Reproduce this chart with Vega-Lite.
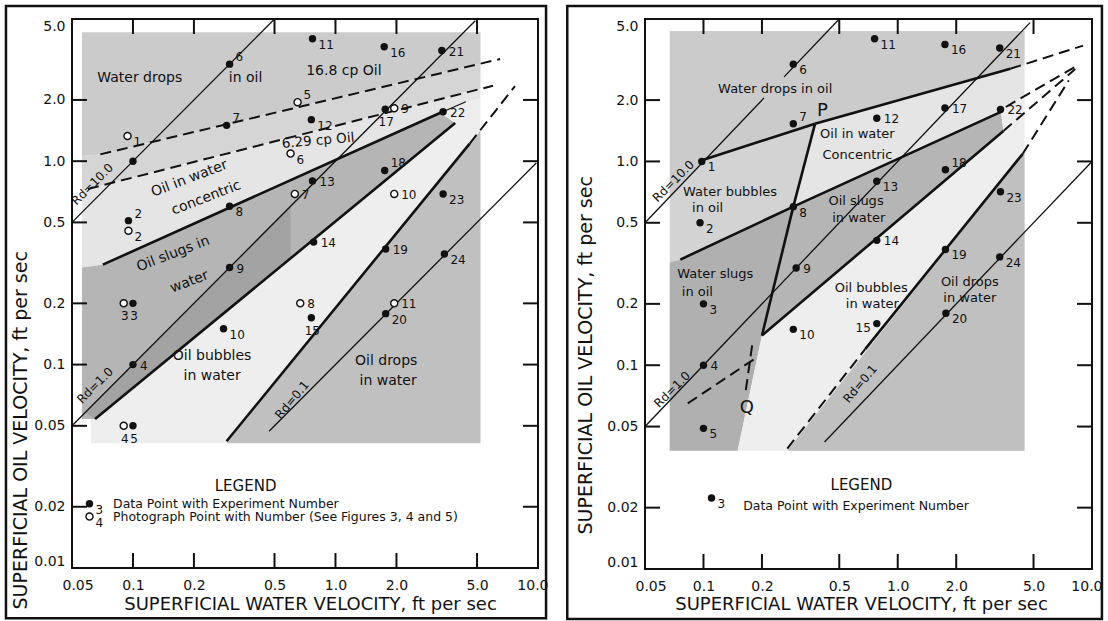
{
"$schema":"https://vega.github.io/schema/vega-lite/v6.json",
"background":"white",
"padding":{"left":3,"top":3,"right":2,"bottom":2},
"spacing":16,
"config":{"view":{"stroke":"#111","strokeWidth":2},"text":{"font":"DejaVu Sans","color":"#111"},"axis":{"minExtent":0}},
"datasets":{
"frames":[{"panel":"L","x":0.0236,"x2":10.96,"y":0.00566,"y2":5.79},{"panel":"R","x":0.0199,"x2":11.25,"y":0.00569,"y2":5.79}],
"polys":[
{"panel":"L","r":"wd","o":1,"x":0.056,"y":4.3},{"panel":"L","r":"wd","o":2,"x":5.2,"y":4.3},{"panel":"L","r":"wd","o":3,"x":5.2,"y":3.02},{"panel":"L","r":"wd","o":4,"x":0.069,"y":1.08},{"panel":"L","r":"wd","o":5,"x":0.056,"y":1.06},
{"panel":"L","r":"mx","o":1,"x":0.056,"y":1.06},{"panel":"L","r":"mx","o":2,"x":0.069,"y":1.08},{"panel":"L","r":"mx","o":3,"x":5.2,"y":3.02},{"panel":"L","r":"mx","o":4,"x":5.2,"y":2.27},{"panel":"L","r":"mx","o":5,"x":0.06,"y":0.73},{"panel":"L","r":"mx","o":6,"x":0.056,"y":0.72},
{"panel":"L","r":"co","o":1,"x":0.056,"y":0.72},{"panel":"L","r":"co","o":2,"x":0.06,"y":0.73},{"panel":"L","r":"co","o":3,"x":5.2,"y":2.27},{"panel":"L","r":"co","o":4,"x":5.2,"y":2.02},{"panel":"L","r":"co","o":5,"x":4.4,"y":1.96},{"panel":"L","r":"co","o":6,"x":3.3,"y":1.73},{"panel":"L","r":"co","o":7,"x":0.071,"y":0.31},{"panel":"L","r":"co","o":8,"x":0.056,"y":0.3},
{"panel":"L","r":"sl","o":1,"x":0.056,"y":0.3},{"panel":"L","r":"sl","o":2,"x":0.071,"y":0.31},{"panel":"L","r":"sl","o":3,"x":3.3,"y":1.73},{"panel":"L","r":"sl","o":4,"x":3.9,"y":1.54},{"panel":"L","r":"sl","o":5,"x":0.065,"y":0.054},{"panel":"L","r":"sl","o":6,"x":0.056,"y":0.054},
{"panel":"L","r":"dg","o":1,"x":0.058,"y":0.058},{"panel":"L","r":"dg","o":2,"x":0.6,"y":0.6},{"panel":"L","r":"dg","o":3,"x":0.6,"y":0.333},{"panel":"L","r":"dg","o":4,"x":0.065,"y":0.054},
{"panel":"L","r":"bu","o":1,"x":0.062,"y":0.041},{"panel":"L","r":"bu","o":2,"x":0.29,"y":0.041},{"panel":"L","r":"bu","o":3,"x":4.6,"y":1.22},{"panel":"L","r":"bu","o":4,"x":5.2,"y":1.42},{"panel":"L","r":"bu","o":5,"x":5.2,"y":2.02},{"panel":"L","r":"bu","o":6,"x":4.4,"y":1.96},{"panel":"L","r":"bu","o":7,"x":3.3,"y":1.73},{"panel":"L","r":"bu","o":8,"x":3.9,"y":1.54},{"panel":"L","r":"bu","o":9,"x":0.065,"y":0.054},{"panel":"L","r":"bu","o":10,"x":0.062,"y":0.054},
{"panel":"L","r":"dr","o":1,"x":0.29,"y":0.041},{"panel":"L","r":"dr","o":2,"x":5.2,"y":0.041},{"panel":"L","r":"dr","o":3,"x":5.2,"y":1.42},{"panel":"L","r":"dr","o":4,"x":4.6,"y":1.22},
{"panel":"R","r":"wd","o":1,"x":0.067,"y":4.36},{"panel":"R","r":"wd","o":2,"x":4.5,"y":4.36},{"panel":"R","r":"wd","o":3,"x":4.5,"y":2.97},{"panel":"R","r":"wd","o":4,"x":3.8,"y":2.85},{"panel":"R","r":"wd","o":5,"x":0.375,"y":1.53},{"panel":"R","r":"wd","o":6,"x":0.1,"y":1.02},{"panel":"R","r":"wd","o":7,"x":0.067,"y":0.67},
{"panel":"R","r":"wb","o":1,"x":0.067,"y":0.67},{"panel":"R","r":"wb","o":2,"x":0.1,"y":1.02},{"panel":"R","r":"wb","o":3,"x":0.375,"y":1.53},{"panel":"R","r":"wb","o":4,"x":0.29,"y":0.6},{"panel":"R","r":"wb","o":5,"x":0.076,"y":0.33},{"panel":"R","r":"wb","o":6,"x":0.067,"y":0.32},
{"panel":"R","r":"co","o":1,"x":0.375,"y":1.53},{"panel":"R","r":"co","o":2,"x":3.8,"y":2.85},{"panel":"R","r":"co","o":3,"x":4.5,"y":2.97},{"panel":"R","r":"co","o":4,"x":4.5,"y":2.1},{"panel":"R","r":"co","o":5,"x":3.4,"y":1.75},{"panel":"R","r":"co","o":6,"x":0.29,"y":0.6},
{"panel":"R","r":"ws","o":1,"x":0.067,"y":0.32},{"panel":"R","r":"ws","o":2,"x":0.076,"y":0.33},{"panel":"R","r":"ws","o":3,"x":0.29,"y":0.6},{"panel":"R","r":"ws","o":4,"x":0.2,"y":0.14},{"panel":"R","r":"ws","o":5,"x":0.15,"y":0.038},{"panel":"R","r":"ws","o":6,"x":0.067,"y":0.038},
{"panel":"R","r":"sl","o":1,"x":0.29,"y":0.6},{"panel":"R","r":"sl","o":2,"x":3.4,"y":1.75},{"panel":"R","r":"sl","o":3,"x":3.5,"y":1.41},{"panel":"R","r":"sl","o":4,"x":0.2,"y":0.14},
{"panel":"R","r":"bu","o":1,"x":0.2,"y":0.14},{"panel":"R","r":"bu","o":2,"x":3.5,"y":1.41},{"panel":"R","r":"bu","o":3,"x":3.4,"y":1.75},{"panel":"R","r":"bu","o":4,"x":4.5,"y":2.1},{"panel":"R","r":"bu","o":5,"x":4.5,"y":1.12},{"panel":"R","r":"bu","o":6,"x":4.4,"y":1.09},{"panel":"R","r":"bu","o":7,"x":0.27,"y":0.038},{"panel":"R","r":"bu","o":8,"x":0.15,"y":0.038},
{"panel":"R","r":"dr","o":1,"x":0.27,"y":0.038},{"panel":"R","r":"dr","o":2,"x":4.5,"y":0.038},{"panel":"R","r":"dr","o":3,"x":4.5,"y":1.12},{"panel":"R","r":"dr","o":4,"x":4.4,"y":1.09}
],
"lines":[
{"panel":"L","s":"thin","x":0.05,"y":0.5,"x2":0.5,"y2":5.0},
{"panel":"L","s":"thin","x":0.05,"y":0.05,"x2":4.9,"y2":4.9},
{"panel":"L","s":"thin","x":0.47,"y":0.047,"x2":9.8,"y2":0.98},
{"panel":"L","s":"thin","x":3.4,"y":1.75,"x2":4.4,"y2":1.96},
{"panel":"L","s":"dash","x":0.069,"y":1.08,"x2":6.5,"y2":3.18},
{"panel":"L","s":"dash","x":0.06,"y":0.73,"x2":6.0,"y2":2.35},
{"panel":"L","s":"dash","x":4.6,"y":1.22,"x2":7.7,"y2":2.34},
{"panel":"L","s":"thick","x":0.071,"y":0.31,"x2":3.3,"y2":1.73},
{"panel":"L","s":"thick","x":0.065,"y":0.054,"x2":3.9,"y2":1.54},
{"panel":"L","s":"thick","x":0.29,"y":0.042,"x2":4.6,"y2":1.22},
{"panel":"L","s":"tk","x":0.1,"y":0.01,"x2":0.1,"y2":0.01185},{"panel":"L","s":"tk","x":0.2,"y":0.01,"x2":0.2,"y2":0.01185},{"panel":"L","s":"tk","x":0.5,"y":0.01,"x2":0.5,"y2":0.01185},{"panel":"L","s":"tk","x":1,"y":0.01,"x2":1,"y2":0.01185},{"panel":"L","s":"tk","x":2,"y":0.01,"x2":2,"y2":0.01185},{"panel":"L","s":"tk","x":5,"y":0.01,"x2":5,"y2":0.01185},
{"panel":"L","s":"tk","x":0.1,"y":5,"x2":0.1,"y2":4.219},{"panel":"L","s":"tk","x":0.2,"y":5,"x2":0.2,"y2":4.219},{"panel":"L","s":"tk","x":0.5,"y":5,"x2":0.5,"y2":4.219},{"panel":"L","s":"tk","x":1,"y":5,"x2":1,"y2":4.219},{"panel":"L","s":"tk","x":2,"y":5,"x2":2,"y2":4.219},{"panel":"L","s":"tk","x":5,"y":5,"x2":5,"y2":4.219},
{"panel":"L","s":"tk","x":0.05,"y":0.02,"x2":0.0593,"y2":0.02},{"panel":"L","s":"tk","x":0.05,"y":0.05,"x2":0.0593,"y2":0.05},{"panel":"L","s":"tk","x":0.05,"y":0.1,"x2":0.0593,"y2":0.1},{"panel":"L","s":"tk","x":0.05,"y":0.2,"x2":0.0593,"y2":0.2},{"panel":"L","s":"tk","x":0.05,"y":0.5,"x2":0.0593,"y2":0.5},{"panel":"L","s":"tk","x":0.05,"y":1,"x2":0.0593,"y2":1},{"panel":"L","s":"tk","x":0.05,"y":2,"x2":0.0593,"y2":2},
{"panel":"L","s":"tk","x":10,"y":0.02,"x2":8.43,"y2":0.02},{"panel":"L","s":"tk","x":10,"y":0.05,"x2":8.43,"y2":0.05},{"panel":"L","s":"tk","x":10,"y":0.1,"x2":8.43,"y2":0.1},{"panel":"L","s":"tk","x":10,"y":0.2,"x2":8.43,"y2":0.2},{"panel":"L","s":"tk","x":10,"y":0.5,"x2":8.43,"y2":0.5},{"panel":"L","s":"tk","x":10,"y":1,"x2":8.43,"y2":1},{"panel":"L","s":"tk","x":10,"y":2,"x2":8.43,"y2":2},
{"panel":"R","s":"thin","x":0.05,"y":0.5,"x2":0.205,"y2":2.05},
{"panel":"R","s":"thin","x":0.26,"y":2.6,"x2":0.5,"y2":5.0},
{"panel":"R","s":"thin","x":0.05,"y":0.05,"x2":4.8,"y2":4.8},
{"panel":"R","s":"thin","x":0.42,"y":0.042,"x2":10,"y2":1.0},
{"panel":"R","s":"thick","x":0.1,"y":1.02,"x2":0.375,"y2":1.53},
{"panel":"R","s":"thick","x":0.375,"y":1.53,"x2":3.8,"y2":2.85},
{"panel":"R","s":"thick","x":0.375,"y":1.53,"x2":0.29,"y2":0.6},
{"panel":"R","s":"thick","x":0.29,"y":0.6,"x2":0.2,"y2":0.14},
{"panel":"R","s":"thick","x":0.076,"y":0.33,"x2":0.29,"y2":0.6},
{"panel":"R","s":"thick","x":0.29,"y":0.6,"x2":3.4,"y2":1.75},
{"panel":"R","s":"thick","x":0.2,"y":0.14,"x2":3.5,"y2":1.41},
{"panel":"R","s":"thick","x":0.68,"y":0.12,"x2":4.4,"y2":1.09},
{"panel":"R","s":"dash","x":3.8,"y":2.85,"x2":9.0,"y2":3.7},
{"panel":"R","s":"dash","x":3.6,"y":1.85,"x2":8.6,"y2":2.99},
{"panel":"R","s":"dash","x":3.5,"y":1.41,"x2":8.2,"y2":2.84},
{"panel":"R","s":"dash","x":4.4,"y":1.09,"x2":7.6,"y2":2.5},
{"panel":"R","s":"dash","x":0.27,"y":0.039,"x2":0.68,"y2":0.12},
{"panel":"R","s":"dash","x":0.083,"y":0.065,"x2":0.185,"y2":0.108},
{"panel":"R","s":"dash","x":0.178,"y":0.125,"x2":0.165,"y2":0.075},
{"panel":"R","s":"tk","x":0.1,"y":0.01,"x2":0.1,"y2":0.01185},{"panel":"R","s":"tk","x":0.2,"y":0.01,"x2":0.2,"y2":0.01185},{"panel":"R","s":"tk","x":0.5,"y":0.01,"x2":0.5,"y2":0.01185},{"panel":"R","s":"tk","x":1,"y":0.01,"x2":1,"y2":0.01185},{"panel":"R","s":"tk","x":2,"y":0.01,"x2":2,"y2":0.01185},{"panel":"R","s":"tk","x":5,"y":0.01,"x2":5,"y2":0.01185},
{"panel":"R","s":"tk","x":0.1,"y":5,"x2":0.1,"y2":4.219},{"panel":"R","s":"tk","x":0.2,"y":5,"x2":0.2,"y2":4.219},{"panel":"R","s":"tk","x":0.5,"y":5,"x2":0.5,"y2":4.219},{"panel":"R","s":"tk","x":1,"y":5,"x2":1,"y2":4.219},{"panel":"R","s":"tk","x":2,"y":5,"x2":2,"y2":4.219},{"panel":"R","s":"tk","x":5,"y":5,"x2":5,"y2":4.219},
{"panel":"R","s":"tk","x":0.05,"y":0.02,"x2":0.05975,"y2":0.02},{"panel":"R","s":"tk","x":0.05,"y":0.05,"x2":0.05975,"y2":0.05},{"panel":"R","s":"tk","x":0.05,"y":0.1,"x2":0.05975,"y2":0.1},{"panel":"R","s":"tk","x":0.05,"y":0.2,"x2":0.05975,"y2":0.2},{"panel":"R","s":"tk","x":0.05,"y":0.5,"x2":0.05975,"y2":0.5},{"panel":"R","s":"tk","x":0.05,"y":1,"x2":0.05975,"y2":1},{"panel":"R","s":"tk","x":0.05,"y":2,"x2":0.05975,"y2":2},
{"panel":"R","s":"tk","x":10,"y":0.02,"x2":8.37,"y2":0.02},{"panel":"R","s":"tk","x":10,"y":0.05,"x2":8.37,"y2":0.05},{"panel":"R","s":"tk","x":10,"y":0.1,"x2":8.37,"y2":0.1},{"panel":"R","s":"tk","x":10,"y":0.2,"x2":8.37,"y2":0.2},{"panel":"R","s":"tk","x":10,"y":0.5,"x2":8.37,"y2":0.5},{"panel":"R","s":"tk","x":10,"y":1,"x2":8.37,"y2":1},{"panel":"R","s":"tk","x":10,"y":2,"x2":8.37,"y2":2}
],
"pts":[
{"panel":"L","n":"1","x":0.1,"y":1.0,"t":"f","p":"n"},
{"panel":"L","n":"2","x":0.095,"y":0.51,"t":"f","p":"a"},
{"panel":"L","n":"2","x":0.095,"y":0.455,"t":"o","p":"r"},
{"panel":"L","n":"3","x":0.1,"y":0.2,"t":"f","p":"b"},
{"panel":"L","n":"3","x":0.09,"y":0.2,"t":"o","p":"b"},
{"panel":"L","n":"4","x":0.1,"y":0.1,"t":"f","p":"m"},
{"panel":"L","n":"5","x":0.1,"y":0.05,"t":"f","p":"b"},
{"panel":"L","n":"4","x":0.09,"y":0.05,"t":"o","p":"b"},
{"panel":"L","n":"6","x":0.3,"y":3.0,"t":"f","p":"a"},
{"panel":"L","n":"7","x":0.29,"y":1.5,"t":"f","p":"a"},
{"panel":"L","n":"8","x":0.3,"y":0.6,"t":"f","p":"r"},
{"panel":"L","n":"9","x":0.3,"y":0.3,"t":"f","p":"m"},
{"panel":"L","n":"10","x":0.28,"y":0.15,"t":"f","p":"r"},
{"panel":"L","n":"11","x":0.77,"y":4.0,"t":"f","p":"r"},
{"panel":"L","n":"12","x":0.76,"y":1.6,"t":"f","p":"r"},
{"panel":"L","n":"13","x":0.77,"y":0.8,"t":"f","p":"m"},
{"panel":"L","n":"14","x":0.78,"y":0.4,"t":"f","p":"m"},
{"panel":"L","n":"15","x":0.76,"y":0.17,"t":"f","p":"b"},
{"panel":"L","n":"16","x":1.74,"y":3.65,"t":"f","p":"r"},
{"panel":"L","n":"17","x":1.76,"y":1.8,"t":"f","p":"b"},
{"panel":"L","n":"18","x":1.75,"y":0.9,"t":"f","p":"a"},
{"panel":"L","n":"19","x":1.77,"y":0.37,"t":"f","p":"m"},
{"panel":"L","n":"20","x":1.77,"y":0.178,"t":"f","p":"r"},
{"panel":"L","n":"21","x":3.35,"y":3.5,"t":"f","p":"m"},
{"panel":"L","n":"22","x":3.4,"y":1.75,"t":"f","p":"m"},
{"panel":"L","n":"23","x":3.4,"y":0.69,"t":"f","p":"r"},
{"panel":"L","n":"24","x":3.45,"y":0.35,"t":"f","p":"r"},
{"panel":"L","n":"1","x":0.094,"y":1.33,"t":"o","p":"r"},
{"panel":"L","n":"5","x":0.65,"y":1.95,"t":"o","p":"a"},
{"panel":"L","n":"6","x":0.6,"y":1.09,"t":"o","p":"r"},
{"panel":"L","n":"7","x":0.63,"y":0.69,"t":"o","p":"m"},
{"panel":"L","n":"8","x":0.67,"y":0.2,"t":"o","p":"m"},
{"panel":"L","n":"9","x":1.95,"y":1.82,"t":"o","p":"m"},
{"panel":"L","n":"10","x":1.95,"y":0.69,"t":"o","p":"m"},
{"panel":"L","n":"11","x":1.95,"y":0.2,"t":"o","p":"m"},
{"panel":"L","n":"3","x":0.061,"y":0.0207,"t":"f","p":"r"},
{"panel":"L","n":"4","x":0.061,"y":0.0179,"t":"o","p":"r"},
{"panel":"R","n":"1","x":0.098,"y":1.0,"t":"f","p":"r"},
{"panel":"R","n":"2","x":0.096,"y":0.5,"t":"f","p":"r"},
{"panel":"R","n":"3","x":0.1,"y":0.2,"t":"f","p":"r"},
{"panel":"R","n":"4","x":0.1,"y":0.1,"t":"f","p":"m"},
{"panel":"R","n":"5","x":0.1,"y":0.049,"t":"f","p":"r"},
{"panel":"R","n":"6","x":0.29,"y":3.0,"t":"f","p":"r"},
{"panel":"R","n":"7","x":0.29,"y":1.53,"t":"f","p":"a"},
{"panel":"R","n":"8","x":0.29,"y":0.6,"t":"f","p":"r"},
{"panel":"R","n":"9","x":0.3,"y":0.3,"t":"f","p":"m"},
{"panel":"R","n":"10","x":0.29,"y":0.15,"t":"f","p":"r"},
{"panel":"R","n":"11","x":0.76,"y":4.0,"t":"f","p":"r"},
{"panel":"R","n":"12","x":0.78,"y":1.63,"t":"f","p":"m"},
{"panel":"R","n":"13","x":0.78,"y":0.8,"t":"f","p":"r"},
{"panel":"R","n":"14","x":0.78,"y":0.41,"t":"f","p":"m"},
{"panel":"R","n":"15","x":0.78,"y":0.16,"t":"f","p":"l"},
{"panel":"R","n":"16","x":1.75,"y":3.75,"t":"f","p":"r"},
{"panel":"R","n":"17","x":1.75,"y":1.83,"t":"f","p":"m"},
{"panel":"R","n":"18","x":1.76,"y":0.91,"t":"f","p":"a"},
{"panel":"R","n":"19","x":1.76,"y":0.37,"t":"f","p":"r"},
{"panel":"R","n":"20","x":1.77,"y":0.18,"t":"f","p":"r"},
{"panel":"R","n":"21","x":3.35,"y":3.6,"t":"f","p":"r"},
{"panel":"R","n":"22","x":3.38,"y":1.8,"t":"f","p":"m"},
{"panel":"R","n":"23","x":3.38,"y":0.71,"t":"f","p":"r"},
{"panel":"R","n":"24","x":3.35,"y":0.34,"t":"f","p":"r"},
{"panel":"R","n":"3","x":0.11,"y":0.0223,"t":"f","p":"r"}
],
"txt":[
{"panel":"L","t":"Water drops","x":0.108,"y":2.56,"k":"h"},
{"panel":"L","t":"in oil","x":0.36,"y":2.56,"k":"h"},
{"panel":"L","t":"16.8 cp Oil","x":1.1,"y":2.78,"k":"h"},
{"panel":"L","t":"6.29 cp Oil","x":0.82,"y":1.26,"k":"r5"},
{"panel":"L","t":"Oil in water","x":0.19,"y":0.82,"k":"r21"},
{"panel":"L","t":"concentric","x":0.23,"y":0.66,"k":"r21"},
{"panel":"L","t":"Oil slugs in","x":0.158,"y":0.35,"k":"r21"},
{"panel":"L","t":"water","x":0.19,"y":0.255,"k":"r21"},
{"panel":"L","t":"Oil bubbles","x":0.246,"y":0.11,"k":"h"},
{"panel":"L","t":"in water","x":0.246,"y":0.088,"k":"h"},
{"panel":"L","t":"Oil drops","x":1.78,"y":0.104,"k":"h"},
{"panel":"L","t":"in water","x":1.82,"y":0.083,"k":"h"},
{"panel":"L","t":"Rd=10.0","x":0.063,"y":0.77,"k":"r45"},
{"panel":"L","t":"Rd=1.0","x":0.065,"y":0.079,"k":"r45"},
{"panel":"L","t":"Rd=0.1","x":0.61,"y":0.067,"k":"r50"},
{"panel":"L","t":"LEGEND","x":0.36,"y":0.0253,"k":"leg"},
{"panel":"L","t":"Data Point with Experiment Number","x":0.0797,"y":0.0207,"k":"legt"},
{"panel":"L","t":"Photograph Point with Number (See Figures 3, 4 and 5)","x":0.0797,"y":0.0179,"k":"legt"},
{"panel":"R","t":"Water drops in oil","x":0.234,"y":2.27,"k":"hs"},
{"panel":"R","t":"P","x":0.41,"y":1.77,"k":"big"},
{"panel":"R","t":"Oil in water","x":0.62,"y":1.36,"k":"hs"},
{"panel":"R","t":"Concentric","x":0.62,"y":1.08,"k":"hs"},
{"panel":"R","t":"Water bubbles","x":0.137,"y":0.71,"k":"hs"},
{"panel":"R","t":"in oil","x":0.105,"y":0.59,"k":"hs"},
{"panel":"R","t":"Water slugs","x":0.115,"y":0.28,"k":"hs"},
{"panel":"R","t":"in oil","x":0.093,"y":0.23,"k":"hs"},
{"panel":"R","t":"Oil slugs","x":0.61,"y":0.64,"k":"hs"},
{"panel":"R","t":"in water","x":0.63,"y":0.53,"k":"hs"},
{"panel":"R","t":"Oil bubbles","x":0.73,"y":0.24,"k":"hs"},
{"panel":"R","t":"in water","x":0.74,"y":0.2,"k":"hs"},
{"panel":"R","t":"Oil drops","x":2.35,"y":0.256,"k":"hs"},
{"panel":"R","t":"in water","x":2.35,"y":0.214,"k":"hs"},
{"panel":"R","t":"Rd=10.0","x":0.07,"y":0.8,"k":"r45"},
{"panel":"R","t":"Rd=1.0","x":0.069,"y":0.076,"k":"r45"},
{"panel":"R","t":"Rd=0.1","x":0.64,"y":0.081,"k":"r50"},
{"panel":"R","t":"Q","x":0.167,"y":0.062,"k":"big"},
{"panel":"R","t":"LEGEND","x":0.65,"y":0.0257,"k":"leg"},
{"panel":"R","t":"Data Point with Experiment Number","x":0.16,"y":0.0204,"k":"legt"}
]
},
"hconcat":[
{
"width":466,"height":549,
"layer":[
{"data":{"name":"frames"},"transform":[{"filter":"datum.panel==='L'"}],"mark":{"type":"rect","filled":false,"stroke":"#111","strokeWidth":2.5},
 "encoding":{"x":{"field":"x","type":"quantitative","scale":{"type":"log","domain":[0.05,10],"nice":false},"axis":{"orient":"bottom","values":[0.05,0.1,0.2,0.5,1,2,5,10],"labelExpr":"datum.value >= 1 ? format(datum.value, '.1f') : format(datum.value, '.2~f')","domain":false,"grid":false,"ticks":false,"labelPadding":10,"labelFontSize":14,"labelColor":"#111","labelFont":"DejaVu Sans","labelOverlap":false,"labelFlush":true,"labelFlushOffset":10,"title":"SUPERFICIAL WATER VELOCITY, ft per sec","titleFont":"DejaVu Sans","titleFontSize":18,"titleFontWeight":"normal","titleColor":"#111","titleBaseline":"middle","titleX":238,"titleY":36,"minExtent":0}},"x2":{"field":"x2"},
  "y":{"field":"y","type":"quantitative","scale":{"type":"log","domain":[0.01,5],"nice":false},"axis":{"orient":"left","values":[0.01,0.02,0.05,0.1,0.2,0.5,1,2,5],"labelExpr":"datum.value >= 1 ? format(datum.value, '.1f') : format(datum.value, '.2~f')","domain":false,"grid":false,"ticks":false,"labelPadding":7,"labelFontSize":14,"labelColor":"#111","labelFont":"DejaVu Sans","labelOverlap":false,"labelFlush":true,"title":"SUPERFICIAL OIL VELOCITY, ft per sec","titleFont":"DejaVu Sans","titleFontSize":19,"titleFontWeight":"normal","titleColor":"#111","titleAngle":270,"titleAlign":"left","titleBaseline":"middle","titleX":-52,"titleY":590,"minExtent":0}},"y2":{"field":"y2"}}},
{"data":{"name":"polys"},"transform":[{"filter":"datum.panel==='L' && datum.r!=='dg'"}],"mark":{"type":"line","strokeWidth":0,"interpolate":"linear-closed"},
 "encoding":{"x":{"field":"x","type":"quantitative","scale":{"type":"log","domain":[0.05,10],"nice":false}},"y":{"field":"y","type":"quantitative","scale":{"type":"log","domain":[0.01,5],"nice":false}},
  "order":{"field":"o","type":"quantitative"},"detail":{"field":"r","type":"nominal"},
  "fill":{"field":"r","type":"nominal","legend":null,"scale":{"domain":["wd","mx","co","sl","dg","bu","dr","wb","ws"],"range":["#cbcbcb","#d5d5d5","#e5e5e5","#b5b5b5","#a3a3a3","#eeeeee","#c0c0c0","#d3d3d3","#b0b0b0"]}}}},
{"data":{"name":"polys"},"transform":[{"filter":"datum.panel==='L' && datum.r==='dg'"}],"mark":{"type":"line","strokeWidth":0,"interpolate":"linear-closed","fill":"#a3a3a3"},
 "encoding":{"x":{"field":"x","type":"quantitative"},"y":{"field":"y","type":"quantitative"},"order":{"field":"o","type":"quantitative"}}},
{"data":{"name":"lines"},"transform":[{"filter":"datum.panel==='L' && datum.s==='tk'"}],"mark":{"type":"rule","stroke":"#111","strokeWidth":2},
 "encoding":{"x":{"field":"x","type":"quantitative"},"x2":{"field":"x2"},"y":{"field":"y","type":"quantitative"},"y2":{"field":"y2"}}},
{"data":{"name":"lines"},"transform":[{"filter":"datum.panel==='L' && datum.s==='thin'"}],"mark":{"type":"rule","stroke":"#111","strokeWidth":1.3},
 "encoding":{"x":{"field":"x","type":"quantitative"},"x2":{"field":"x2"},"y":{"field":"y","type":"quantitative"},"y2":{"field":"y2"}}},
{"data":{"name":"lines"},"transform":[{"filter":"datum.panel==='L' && datum.s==='thick'"}],"mark":{"type":"rule","stroke":"#111","strokeWidth":2.6},
 "encoding":{"x":{"field":"x","type":"quantitative"},"x2":{"field":"x2"},"y":{"field":"y","type":"quantitative"},"y2":{"field":"y2"}}},
{"data":{"name":"lines"},"transform":[{"filter":"datum.panel==='L' && datum.s==='dash'"}],"mark":{"type":"rule","stroke":"#111","strokeWidth":2,"strokeDash":[11,6]},
 "encoding":{"x":{"field":"x","type":"quantitative"},"x2":{"field":"x2"},"y":{"field":"y","type":"quantitative"},"y2":{"field":"y2"}}},
{"data":{"name":"pts"},"transform":[{"filter":"datum.panel==='L' && datum.t==='f'"}],"mark":{"type":"point","shape":"circle","filled":true,"color":"#111","size":55,"opacity":1},
 "encoding":{"x":{"field":"x","type":"quantitative"},"y":{"field":"y","type":"quantitative"}}},
{"data":{"name":"pts"},"transform":[{"filter":"datum.panel==='L' && datum.t==='o'"}],"mark":{"type":"point","shape":"circle","filled":true,"fill":"white","stroke":"#111","strokeWidth":1.4,"size":50,"opacity":1},
 "encoding":{"x":{"field":"x","type":"quantitative"},"y":{"field":"y","type":"quantitative"}}},
{"data":{"name":"pts"},"transform":[{"filter":"datum.panel==='L' && datum.p==='r'"}],"mark":{"type":"text","fontSize":12,"align":"left","baseline":"middle","dx":6,"dy":6},
 "encoding":{"x":{"field":"x","type":"quantitative"},"y":{"field":"y","type":"quantitative"},"text":{"field":"n"}}},
{"data":{"name":"pts"},"transform":[{"filter":"datum.panel==='L' && datum.p==='m'"}],"mark":{"type":"text","fontSize":12,"align":"left","baseline":"middle","dx":7,"dy":1},
 "encoding":{"x":{"field":"x","type":"quantitative"},"y":{"field":"y","type":"quantitative"},"text":{"field":"n"}}},
{"data":{"name":"pts"},"transform":[{"filter":"datum.panel==='L' && datum.p==='a'"}],"mark":{"type":"text","fontSize":12,"align":"left","baseline":"middle","dx":6,"dy":-7},
 "encoding":{"x":{"field":"x","type":"quantitative"},"y":{"field":"y","type":"quantitative"},"text":{"field":"n"}}},
{"data":{"name":"pts"},"transform":[{"filter":"datum.panel==='L' && datum.p==='b'"}],"mark":{"type":"text","fontSize":12,"align":"center","baseline":"middle","dx":1,"dy":13},
 "encoding":{"x":{"field":"x","type":"quantitative"},"y":{"field":"y","type":"quantitative"},"text":{"field":"n"}}},
{"data":{"name":"txt"},"transform":[{"filter":"datum.panel==='L' && datum.k==='h'"}],"mark":{"type":"text","fontSize":14,"align":"center","baseline":"middle"},
 "encoding":{"x":{"field":"x","type":"quantitative"},"y":{"field":"y","type":"quantitative"},"text":{"field":"t"}}},
{"data":{"name":"txt"},"transform":[{"filter":"datum.panel==='L' && datum.k==='r5'"}],"mark":{"type":"text","fontSize":13.5,"align":"center","baseline":"middle","angle":355},
 "encoding":{"x":{"field":"x","type":"quantitative"},"y":{"field":"y","type":"quantitative"},"text":{"field":"t"}}},
{"data":{"name":"txt"},"transform":[{"filter":"datum.panel==='L' && datum.k==='r21'"}],"mark":{"type":"text","fontSize":14,"align":"center","baseline":"middle","angle":339},
 "encoding":{"x":{"field":"x","type":"quantitative"},"y":{"field":"y","type":"quantitative"},"text":{"field":"t"}}},
{"data":{"name":"txt"},"transform":[{"filter":"datum.panel==='L' && datum.k==='r45'"}],"mark":{"type":"text","fontSize":12,"align":"center","baseline":"middle","angle":315},
 "encoding":{"x":{"field":"x","type":"quantitative"},"y":{"field":"y","type":"quantitative"},"text":{"field":"t"}}},
{"data":{"name":"txt"},"transform":[{"filter":"datum.panel==='L' && datum.k==='r50'"}],"mark":{"type":"text","fontSize":12,"align":"center","baseline":"middle","angle":310},
 "encoding":{"x":{"field":"x","type":"quantitative"},"y":{"field":"y","type":"quantitative"},"text":{"field":"t"}}},
{"data":{"name":"txt"},"transform":[{"filter":"datum.panel==='L' && datum.k==='leg'"}],"mark":{"type":"text","fontSize":15,"align":"center","baseline":"middle"},
 "encoding":{"x":{"field":"x","type":"quantitative"},"y":{"field":"y","type":"quantitative"},"text":{"field":"t"}}},
{"data":{"name":"txt"},"transform":[{"filter":"datum.panel==='L' && datum.k==='legt'"}],"mark":{"type":"text","fontSize":12.5,"align":"left","baseline":"middle"},
 "encoding":{"x":{"field":"x","type":"quantitative"},"y":{"field":"y","type":"quantitative"},"text":{"field":"t"}}}
]
},
{
"width":447,"height":550,
"layer":[
{"data":{"name":"frames"},"transform":[{"filter":"datum.panel==='R'"}],"mark":{"type":"rect","filled":false,"stroke":"#111","strokeWidth":2.5},
 "encoding":{"x":{"field":"x","type":"quantitative","scale":{"type":"log","domain":[0.05,10],"nice":false},"axis":{"orient":"bottom","values":[0.05,0.1,0.2,0.5,1,2,5,10],"labelExpr":"datum.value >= 1 ? format(datum.value, '.1f') : format(datum.value, '.2~f')","domain":false,"grid":false,"ticks":false,"labelPadding":10,"labelFontSize":14,"labelColor":"#111","labelFont":"DejaVu Sans","labelOverlap":false,"labelFlush":true,"labelFlushOffset":10,"title":"SUPERFICIAL WATER VELOCITY, ft per sec","titleFont":"DejaVu Sans","titleFontSize":18,"titleFontWeight":"normal","titleColor":"#111","titleBaseline":"middle","titleX":216,"titleY":35,"minExtent":0}},"x2":{"field":"x2"},
  "y":{"field":"y","type":"quantitative","scale":{"type":"log","domain":[0.01,5],"nice":false},"axis":{"orient":"left","values":[0.01,0.02,0.05,0.1,0.2,0.5,1,2,5],"labelExpr":"datum.value >= 1 ? format(datum.value, '.1f') : format(datum.value, '.2~f')","domain":false,"grid":false,"ticks":false,"labelPadding":7,"labelFontSize":14,"labelColor":"#111","labelFont":"DejaVu Sans","labelOverlap":false,"labelFlush":true,"title":"SUPERFICIAL OIL VELOCITY, ft per sec","titleFont":"DejaVu Sans","titleFontSize":19,"titleFontWeight":"normal","titleColor":"#111","titleAngle":270,"titleAlign":"left","titleBaseline":"middle","titleX":-60,"titleY":515,"minExtent":0}},"y2":{"field":"y2"}}},
{"data":{"name":"polys"},"transform":[{"filter":"datum.panel==='R'"}],"mark":{"type":"line","strokeWidth":0,"interpolate":"linear-closed"},
 "encoding":{"x":{"field":"x","type":"quantitative","scale":{"type":"log","domain":[0.05,10],"nice":false}},"y":{"field":"y","type":"quantitative","scale":{"type":"log","domain":[0.01,5],"nice":false}},
  "order":{"field":"o","type":"quantitative"},"detail":{"field":"r","type":"nominal"},
  "fill":{"field":"r","type":"nominal","legend":null,"scale":{"domain":["wd","mx","co","sl","dg","bu","dr","wb","ws"],"range":["#cbcbcb","#d5d5d5","#e5e5e5","#b5b5b5","#a3a3a3","#eeeeee","#c0c0c0","#d3d3d3","#b0b0b0"]}}}},
{"data":{"name":"lines"},"transform":[{"filter":"datum.panel==='R' && datum.s==='tk'"}],"mark":{"type":"rule","stroke":"#111","strokeWidth":2},
 "encoding":{"x":{"field":"x","type":"quantitative"},"x2":{"field":"x2"},"y":{"field":"y","type":"quantitative"},"y2":{"field":"y2"}}},
{"data":{"name":"lines"},"transform":[{"filter":"datum.panel==='R' && datum.s==='thin'"}],"mark":{"type":"rule","stroke":"#111","strokeWidth":1.3},
 "encoding":{"x":{"field":"x","type":"quantitative"},"x2":{"field":"x2"},"y":{"field":"y","type":"quantitative"},"y2":{"field":"y2"}}},
{"data":{"name":"lines"},"transform":[{"filter":"datum.panel==='R' && datum.s==='thick'"}],"mark":{"type":"rule","stroke":"#111","strokeWidth":2.6},
 "encoding":{"x":{"field":"x","type":"quantitative"},"x2":{"field":"x2"},"y":{"field":"y","type":"quantitative"},"y2":{"field":"y2"}}},
{"data":{"name":"lines"},"transform":[{"filter":"datum.panel==='R' && datum.s==='dash'"}],"mark":{"type":"rule","stroke":"#111","strokeWidth":2,"strokeDash":[11,6]},
 "encoding":{"x":{"field":"x","type":"quantitative"},"x2":{"field":"x2"},"y":{"field":"y","type":"quantitative"},"y2":{"field":"y2"}}},
{"data":{"name":"pts"},"transform":[{"filter":"datum.panel==='R' && datum.t==='f'"}],"mark":{"type":"point","shape":"circle","filled":true,"color":"#111","size":55,"opacity":1},
 "encoding":{"x":{"field":"x","type":"quantitative"},"y":{"field":"y","type":"quantitative"}}},
{"data":{"name":"pts"},"transform":[{"filter":"datum.panel==='R' && datum.p==='r'"}],"mark":{"type":"text","fontSize":12,"align":"left","baseline":"middle","dx":6,"dy":6},
 "encoding":{"x":{"field":"x","type":"quantitative"},"y":{"field":"y","type":"quantitative"},"text":{"field":"n"}}},
{"data":{"name":"pts"},"transform":[{"filter":"datum.panel==='R' && datum.p==='m'"}],"mark":{"type":"text","fontSize":12,"align":"left","baseline":"middle","dx":7,"dy":1},
 "encoding":{"x":{"field":"x","type":"quantitative"},"y":{"field":"y","type":"quantitative"},"text":{"field":"n"}}},
{"data":{"name":"pts"},"transform":[{"filter":"datum.panel==='R' && datum.p==='a'"}],"mark":{"type":"text","fontSize":12,"align":"left","baseline":"middle","dx":6,"dy":-7},
 "encoding":{"x":{"field":"x","type":"quantitative"},"y":{"field":"y","type":"quantitative"},"text":{"field":"n"}}},
{"data":{"name":"pts"},"transform":[{"filter":"datum.panel==='R' && datum.p==='l'"}],"mark":{"type":"text","fontSize":12,"align":"right","baseline":"middle","dx":-6,"dy":4},
 "encoding":{"x":{"field":"x","type":"quantitative"},"y":{"field":"y","type":"quantitative"},"text":{"field":"n"}}},
{"data":{"name":"txt"},"transform":[{"filter":"datum.panel==='R' && datum.k==='hs'"}],"mark":{"type":"text","fontSize":13,"align":"center","baseline":"middle"},
 "encoding":{"x":{"field":"x","type":"quantitative"},"y":{"field":"y","type":"quantitative"},"text":{"field":"t"}}},
{"data":{"name":"txt"},"transform":[{"filter":"datum.panel==='R' && datum.k==='big'"}],"mark":{"type":"text","fontSize":18,"align":"center","baseline":"middle"},
 "encoding":{"x":{"field":"x","type":"quantitative"},"y":{"field":"y","type":"quantitative"},"text":{"field":"t"}}},
{"data":{"name":"txt"},"transform":[{"filter":"datum.panel==='R' && datum.k==='r45'"}],"mark":{"type":"text","fontSize":12,"align":"center","baseline":"middle","angle":315},
 "encoding":{"x":{"field":"x","type":"quantitative"},"y":{"field":"y","type":"quantitative"},"text":{"field":"t"}}},
{"data":{"name":"txt"},"transform":[{"filter":"datum.panel==='R' && datum.k==='r50'"}],"mark":{"type":"text","fontSize":12,"align":"center","baseline":"middle","angle":310},
 "encoding":{"x":{"field":"x","type":"quantitative"},"y":{"field":"y","type":"quantitative"},"text":{"field":"t"}}},
{"data":{"name":"txt"},"transform":[{"filter":"datum.panel==='R' && datum.k==='leg'"}],"mark":{"type":"text","fontSize":15,"align":"center","baseline":"middle"},
 "encoding":{"x":{"field":"x","type":"quantitative"},"y":{"field":"y","type":"quantitative"},"text":{"field":"t"}}},
{"data":{"name":"txt"},"transform":[{"filter":"datum.panel==='R' && datum.k==='legt'"}],"mark":{"type":"text","fontSize":12.5,"align":"left","baseline":"middle"},
 "encoding":{"x":{"field":"x","type":"quantitative"},"y":{"field":"y","type":"quantitative"},"text":{"field":"t"}}}
]
}
]
}
